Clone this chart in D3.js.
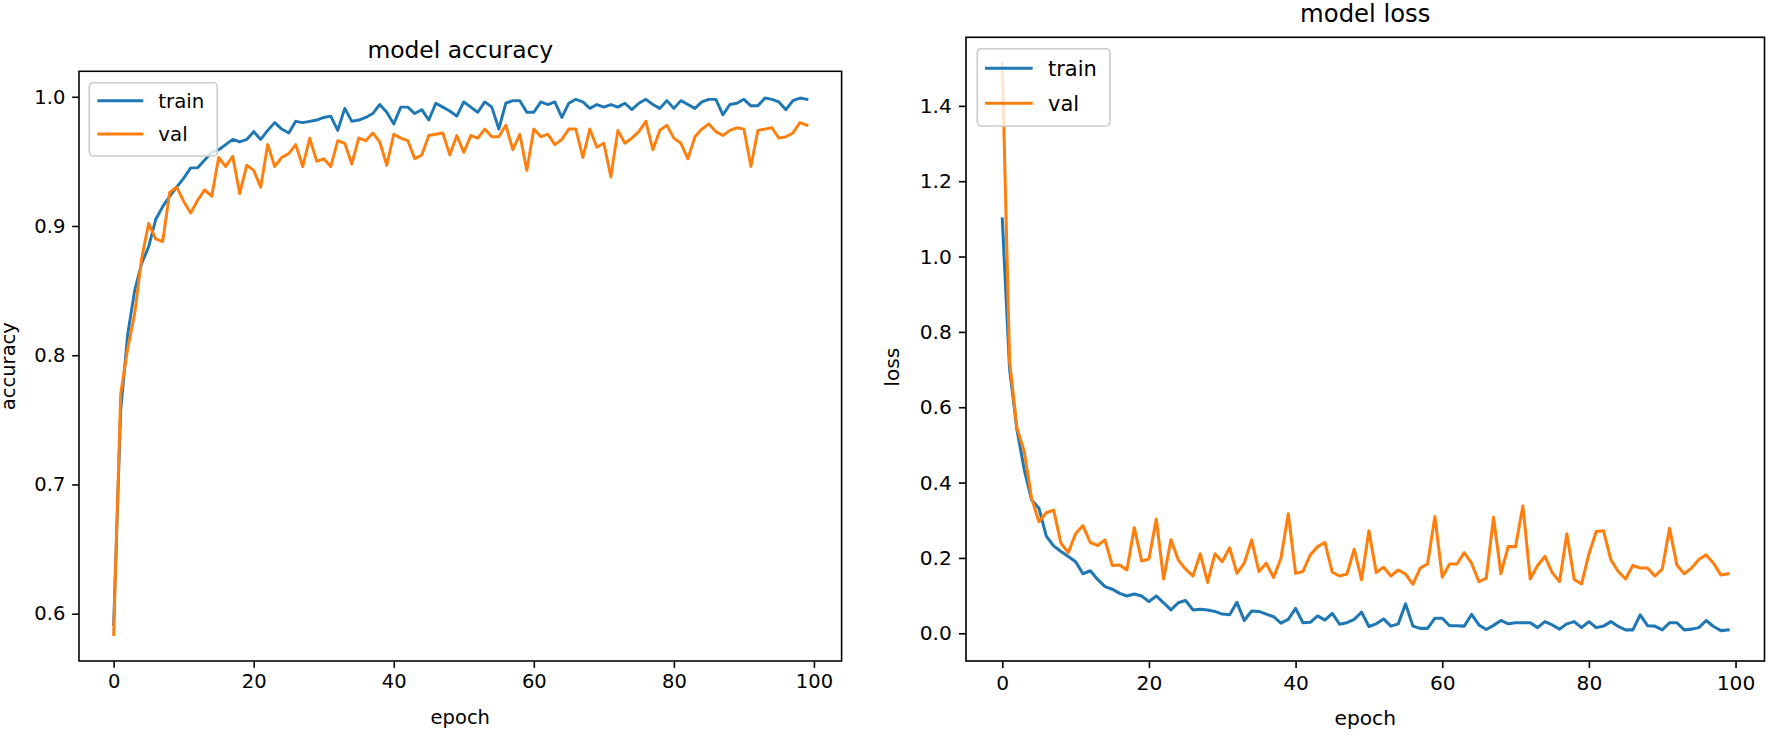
<!DOCTYPE html>
<html><head><meta charset="utf-8">
<script src="https://cdn.jsdelivr.net/npm/d3@7"></script>
<style>body{margin:0;background:#fff;} svg text{font-family:"DejaVu Sans",sans-serif;fill:#000;}</style>
</head><body><svg id="c" width="1769" height="736"></svg>
<script>
const epochs = d3.range(100);
const seriesNames = ["train", "val"];
const seriesColors = ["#1f77b4", "#ff7f0e"];
const xTicks = [0, 20, 40, 60, 80, 100];
const accTicks = [0.6, 0.7, 0.8, 0.9, 1.0];
const lossTicks = [0.0, 0.2, 0.4, 0.6, 0.8, 1.0, 1.2, 1.4];

const accTrain = [0.592,0.757,0.816,0.850,0.871,0.884,0.905,0.915,0.923,0.930,
0.937,0.945,0.945,0.951,0.957,0.959,0.963,0.967,0.965,0.967,
0.973,0.967,0.974,0.980,0.975,0.972,0.981,0.980,0.981,0.982,
0.984,0.985,0.974,0.991,0.981,0.982,0.984,0.987,0.994,0.988,
0.979,0.992,0.992,0.987,0.990,0.982,0.995,0.992,0.989,0.985,
0.996,0.992,0.988,0.996,0.992,0.975,0.995,0.997,0.997,0.988,
0.988,0.996,0.994,0.996,0.984,0.995,0.998,0.996,0.991,0.994,
0.992,0.994,0.992,0.995,0.990,0.995,0.998,0.994,0.991,0.997,
0.991,0.997,0.994,0.991,0.996,0.998,0.998,0.986,0.994,0.995,
0.998,0.993,0.993,0.999,0.998,0.996,0.990,0.997,0.999,0.998];

const accVal = [0.584,0.770,0.805,0.832,0.875,0.902,0.890,0.888,0.926,0.930,
0.919,0.910,0.920,0.928,0.923,0.953,0.946,0.954,0.925,0.947,
0.943,0.930,0.963,0.946,0.953,0.956,0.963,0.946,0.968,0.950,
0.952,0.946,0.966,0.964,0.948,0.968,0.966,0.972,0.965,0.947,
0.971,0.968,0.966,0.952,0.955,0.970,0.971,0.972,0.955,0.970,
0.957,0.970,0.968,0.975,0.969,0.969,0.978,0.959,0.971,0.943,
0.975,0.969,0.971,0.963,0.967,0.975,0.975,0.953,0.975,0.961,
0.964,0.938,0.974,0.964,0.968,0.973,0.981,0.959,0.974,0.978,
0.968,0.964,0.952,0.969,0.975,0.979,0.973,0.970,0.974,0.976,
0.975,0.946,0.974,0.975,0.976,0.968,0.969,0.972,0.980,0.978];

const lossTrain = [1.100,0.700,0.540,0.434,0.354,0.332,0.258,0.232,0.217,0.204,
0.190,0.158,0.166,0.143,0.124,0.117,0.106,0.099,0.104,0.099,
0.084,0.099,0.081,0.062,0.081,0.087,0.062,0.064,0.062,0.058,
0.051,0.049,0.082,0.034,0.059,0.058,0.051,0.044,0.027,0.037,
0.066,0.028,0.029,0.046,0.035,0.053,0.024,0.028,0.037,0.056,
0.018,0.025,0.038,0.019,0.025,0.078,0.019,0.013,0.013,0.040,
0.040,0.020,0.020,0.019,0.050,0.022,0.010,0.021,0.034,0.025,
0.028,0.028,0.028,0.015,0.031,0.022,0.011,0.025,0.031,0.015,
0.031,0.015,0.019,0.031,0.018,0.009,0.009,0.049,0.020,0.019,
0.009,0.028,0.028,0.009,0.011,0.015,0.034,0.018,0.007,0.009];

const lossVal = [1.513,0.720,0.545,0.482,0.358,0.296,0.320,0.327,0.239,0.214,
0.264,0.286,0.241,0.233,0.248,0.180,0.181,0.168,0.281,0.192,
0.197,0.303,0.144,0.248,0.195,0.170,0.152,0.211,0.135,0.211,
0.190,0.227,0.159,0.186,0.248,0.164,0.186,0.148,0.199,0.317,
0.159,0.164,0.208,0.230,0.241,0.162,0.152,0.157,0.223,0.142,
0.272,0.161,0.175,0.152,0.168,0.157,0.130,0.173,0.184,0.310,
0.149,0.184,0.184,0.214,0.186,0.137,0.146,0.308,0.158,0.230,
0.230,0.338,0.144,0.180,0.204,0.161,0.137,0.264,0.143,0.131,
0.210,0.270,0.272,0.195,0.164,0.144,0.180,0.173,0.173,0.152,
0.170,0.279,0.181,0.158,0.173,0.196,0.208,0.186,0.155,0.158];

const svg = d3.select("#c");

function panel(cfg) {
  const g = svg.append("g");
  const x = d3.scaleLinear().domain([-4.95, 103.95]).range([cfg.left, cfg.right]);
  const y = d3.scaleLinear().domain(cfg.yDomain).range([cfg.bottom, cfg.top]);
  const s = cfg.scale;

  const line = d3.line().x((d, i) => x(epochs[i])).y(d => y(d));
  cfg.series.forEach((vals, k) => {
    g.append("path").datum(vals)
      .attr("d", line)
      .attr("fill", "none")
      .attr("stroke", seriesColors[k])
      .attr("stroke-width", 1.5 * s)
      .attr("stroke-linejoin", "round")
      .attr("stroke-linecap", "square");
  });

  const xa = g.append("g").attr("transform", `translate(0,${cfg.bottom})`)
    .call(d3.axisBottom(x).tickValues(xTicks).tickFormat(d3.format("d"))
      .tickSize(3.5 * s).tickPadding(3.5 * s));
  const ya = g.append("g").attr("transform", `translate(${cfg.left},0)`)
    .call(d3.axisLeft(y).tickValues(cfg.yTicks).tickFormat(d3.format(".1f"))
      .tickSize(3.5 * s).tickPadding(3.5 * s));
  [xa, ya].forEach(a => {
    a.select(".domain").remove();
    a.selectAll(".tick line").attr("stroke", "#000").attr("stroke-width", 0.8 * s);
    a.selectAll(".tick text").attr("font-size", cfg.fs + "px")
      .attr("font-family", "DejaVu Sans").attr("fill", "#000");
  });

  g.append("rect").attr("x", cfg.left).attr("y", cfg.top)
    .attr("width", cfg.right - cfg.left).attr("height", cfg.bottom - cfg.top)
    .attr("fill", "none").attr("stroke", "#000").attr("stroke-width", 0.8 * s);

  const cx = (cfg.left + cfg.right) / 2, cy = (cfg.top + cfg.bottom) / 2;
  g.append("text").attr("x", cx).attr("y", cfg.titleY).attr("text-anchor", "middle")
    .attr("font-size", cfg.tfs + "px").text(cfg.title);
  g.append("text").attr("x", cx).attr("y", cfg.xlabelY).attr("text-anchor", "middle")
    .attr("font-size", cfg.fs + "px").text("epoch");
  g.append("text").attr("transform", `translate(${cfg.ylabelX},${cy + cfg.ylabelDy}) rotate(-90)`)
    .attr("text-anchor", "middle").attr("font-size", cfg.fs + "px").text(cfg.ylabel);

  const L = cfg.legend;
  const lg = g.append("g");
  lg.append("rect").attr("x", L.x).attr("y", L.y).attr("width", L.w).attr("height", L.h)
    .attr("rx", 0.2 * cfg.lfs).attr("fill", "#fff").attr("fill-opacity", 0.8)
    .attr("stroke", "#cccccc").attr("stroke-width", 0.8 * s);
  seriesNames.forEach((name, k) => {
    const ly = L.y + L.row0 + k * L.rowGap;
    lg.append("line").attr("x1", L.x + L.hx0).attr("x2", L.x + L.hx1)
      .attr("y1", ly).attr("y2", ly)
      .attr("stroke", seriesColors[k]).attr("stroke-width", 1.5 * s);
    lg.append("text").attr("x", L.x + L.tx).attr("y", ly).attr("dy", "0.36em")
      .attr("font-size", cfg.lfs + "px").text(name);
  });
}

panel({
  left: 79, right: 841.6, top: 71.3, bottom: 661,
  yDomain: [0.5634, 1.0197], yTicks: accTicks,
  series: [accTrain, accVal], scale: 1.95, fs: 19.5, tfs: 23.4, lfs: 19.8,
  title: "model accuracy", titleY: 58, xlabelY: 724, ylabel: "accuracy", ylabelX: 15, ylabelDy: 0,
  legend: {x: 89.3, y: 82.7, w: 128, h: 73.3, row0: 18, rowGap: 33.3, hx0: 8, hx1: 54, tx: 69}
});

panel({
  left: 966, right: 1764.5, top: 37.3, bottom: 661,
  yDomain: [-0.0736, 1.582], yTicks: lossTicks,
  series: [lossTrain, lossVal], scale: 2.03, fs: 20.2, tfs: 24.3, lfs: 21,
  title: "model loss", titleY: 22, xlabelY: 725, ylabel: "loss", ylabelX: 899, ylabelDy: 18,
  legend: {x: 977.3, y: 48.7, w: 132.7, h: 77.3, row0: 19.6, rowGap: 35, hx0: 7.7, hx1: 55.4, tx: 70.7}
});
</script>
</body></html>
